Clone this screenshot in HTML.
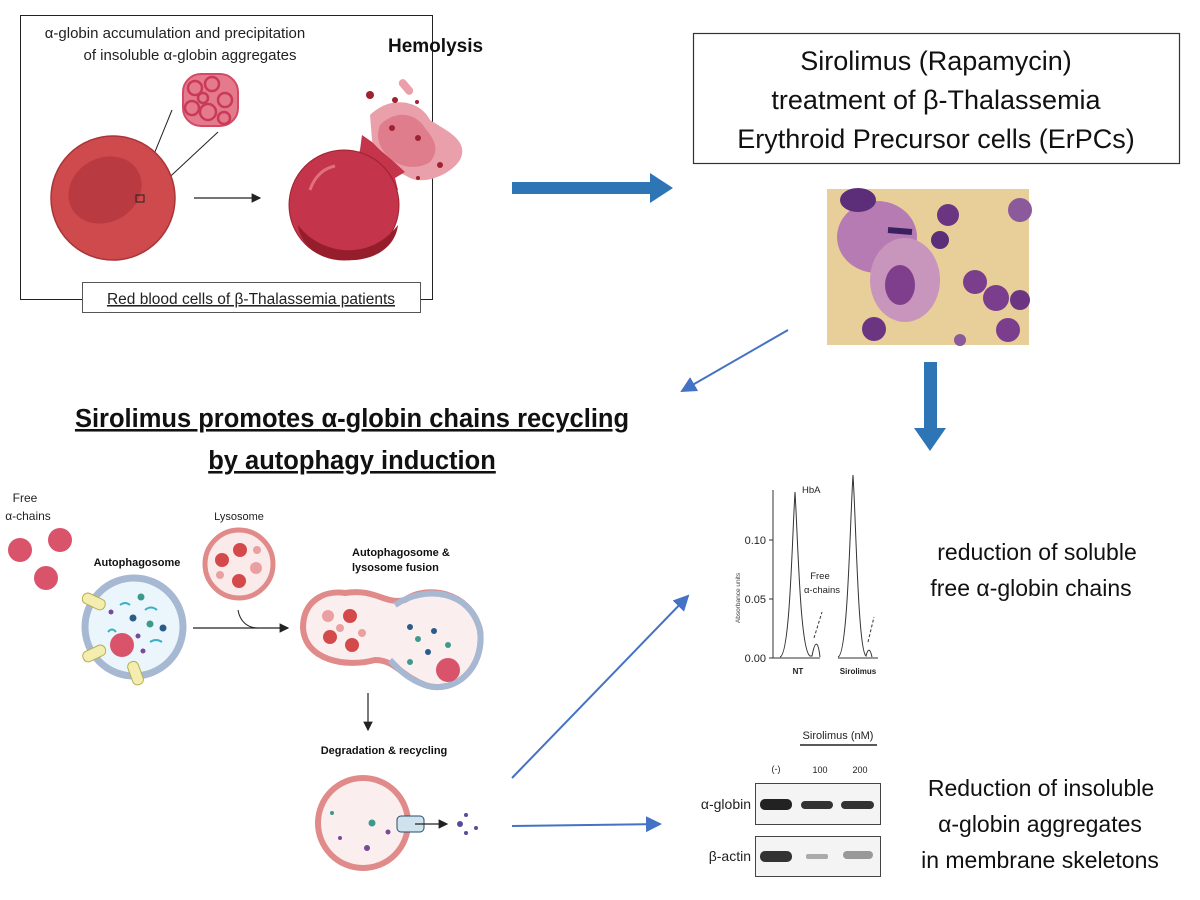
<!DOCTYPE html>
<html><head><meta charset="utf-8"><style>
html,body{margin:0;padding:0;background:#fff;}
svg{display:block;font-family:"Liberation Sans",sans-serif;}
</style></head><body>
<svg width="1200" height="900" viewBox="0 0 1200 900" xmlns="http://www.w3.org/2000/svg">
<defs>
<marker id="ak" markerWidth="8" markerHeight="8" refX="7" refY="4" orient="auto"><path d="M0,0 L8,4 L0,8 Z" fill="#222"/></marker>
<marker id="ab" markerWidth="8" markerHeight="8" refX="7" refY="4" orient="auto"><path d="M0,0 L8,4 L0,8 Z" fill="#4472c4"/></marker>
</defs>
<!-- Top-left box -->
<rect x="20.5" y="15.5" width="412" height="284" fill="#fff" stroke="#222" stroke-width="1"/>
<text x="175" y="38" font-size="15" text-anchor="middle" fill="#222">α-globin accumulation and precipitation</text>
<text x="190" y="60" font-size="15" text-anchor="middle" fill="#222">of insoluble α-globin aggregates</text>
<text x="388" y="52" font-size="19" font-weight="bold" text-anchor="start" fill="#111">Hemolysis</text>
<!-- aggregate -->
<g fill="#e57a8d" stroke="#d44a66" stroke-width="2">
<rect x="183" y="74" width="55" height="52" rx="18"/>
</g>
<g fill="none" stroke="#c93a58" stroke-width="2.5">
<circle cx="195" cy="88" r="7"/><circle cx="212" cy="84" r="7"/><circle cx="225" cy="100" r="7"/><circle cx="192" cy="108" r="7"/><circle cx="208" cy="112" r="8"/><circle cx="224" cy="118" r="6"/><circle cx="203" cy="98" r="5"/>
</g>
<line x1="172" y1="110" x2="137" y2="196" stroke="#222"/>
<line x1="218" y1="132" x2="145" y2="200" stroke="#222"/>
<circle cx="113" cy="198" r="62" fill="#cf4a4c" stroke="#a93538" stroke-width="1.5"/>
<ellipse cx="105" cy="190" rx="38" ry="32" fill="#b93a40" transform="rotate(-30 105 190)"/>
<rect x="136" y="195" width="8" height="7" fill="none" stroke="#222"/>
<line x1="194" y1="198" x2="260" y2="198" stroke="#222" stroke-width="1.2" marker-end="url(#ak)"/>
<!-- burst -->
<path d="M370,115 C390,95 420,100 430,120 C445,130 470,140 460,160 C450,175 425,185 410,178 C395,170 375,160 372,140 Z" fill="#eaa0ab"/>
<path d="M380,125 C395,110 415,112 425,128 C435,140 440,150 430,162 C418,170 400,168 390,158 C380,150 375,138 380,125 Z" fill="#df7d8c"/>
<rect x="402" y="78" width="8" height="18" rx="4" fill="#eaa0ab" transform="rotate(-40 406 87)"/>
<circle cx="370" cy="95" r="4" fill="#9e2230"/><circle cx="395" cy="100" r="3" fill="#9e2230"/><circle cx="417" cy="102" r="2" fill="#9e2230"/><circle cx="440" cy="165" r="3" fill="#9e2230"/><circle cx="418" cy="178" r="2" fill="#9e2230"/><circle cx="392" cy="128" r="3" fill="#9e2230"/><circle cx="418" cy="138" r="3" fill="#9e2230"/>
<path d="M360,150 L362,135 L372,142 L380,150 L392,160 L405,172 L395,178 L398,190 L340,200 Z" fill="#c4344a"/>
<circle cx="344" cy="205" r="55" fill="#c4344a" stroke="#9e2230" stroke-width="1"/>
<path d="M298,225 C320,255 370,262 398,225 C395,250 370,262 344,260 C320,260 300,245 298,225 Z" fill="#961d2c"/>
<path d="M310,190 C315,175 325,168 335,166" fill="none" stroke="#e0707e" stroke-width="3"/>
<!-- label box -->
<rect x="82.5" y="282.5" width="338" height="30" fill="#fff" stroke="#555" stroke-width="1"/>
<text x="251" y="304" font-size="15.5" text-anchor="middle" fill="#222" text-decoration="underline">Red blood cells of β-Thalassemia patients</text>

<!-- big blue arrow -->
<rect x="512" y="182" width="140" height="12" fill="#2e75b6"/>
<path d="M650,173 L673,188 L650,203 Z" fill="#2e75b6"/>

<!-- title box -->
<rect x="693.5" y="33.5" width="486" height="130" fill="#fff" stroke="#333" stroke-width="1.2"/>
<text x="936" y="70" font-size="27" text-anchor="middle" fill="#111">Sirolimus (Rapamycin)</text>
<text x="936" y="109" font-size="27" text-anchor="middle" fill="#111">treatment of β-Thalassemia</text>
<text x="936" y="148" font-size="27" text-anchor="middle" fill="#111">Erythroid Precursor cells (ErPCs)</text>

<!-- micrograph -->
<rect x="827" y="189" width="202" height="156" fill="#e8cf9a"/>
<ellipse cx="877" cy="237" rx="40" ry="36" fill="#b67bb3"/>
<ellipse cx="905" cy="280" rx="35" ry="42" fill="#c896bd"/>
<ellipse cx="900" cy="285" rx="15" ry="20" fill="#7f3f8c"/>
<ellipse cx="858" cy="200" rx="18" ry="12" fill="#5c2d78"/>
<circle cx="948" cy="215" r="11" fill="#6b3582"/><circle cx="940" cy="240" r="9" fill="#5c2d78"/>
<circle cx="975" cy="282" r="12" fill="#7a3e8c"/><circle cx="996" cy="298" r="13" fill="#7a3e8c"/><circle cx="1008" cy="330" r="12" fill="#7a3e8c"/><circle cx="1020" cy="300" r="10" fill="#6b3582"/>
<circle cx="874" cy="329" r="12" fill="#6b3582"/><circle cx="1020" cy="210" r="12" fill="#8a5a9a"/>
<circle cx="960" cy="340" r="6" fill="#8a5a9a"/>
<line x1="888" y1="230" x2="912" y2="232" stroke="#3a2060" stroke-width="6"/>

<!-- thin blue arrow -->
<line x1="788" y1="330" x2="682" y2="391" stroke="#4472c4" stroke-width="2" marker-end="url(#ab)"/>
<!-- down blue arrow -->
<rect x="924" y="362" width="13" height="68" fill="#2e75b6"/>
<path d="M914,428 L930,451 L946,428 Z" fill="#2e75b6"/>

<!-- heading -->
<text x="352" y="427" font-size="25.5" font-weight="bold" text-anchor="middle" fill="#111" text-decoration="underline">Sirolimus promotes α-globin chains recycling</text>
<text x="352" y="469" font-size="25.5" font-weight="bold" text-anchor="middle" fill="#111" text-decoration="underline">by autophagy induction</text>

<!-- autophagy diagram -->
<text x="25" y="502" font-size="12" text-anchor="middle" fill="#222">Free</text>
<text x="28" y="520" font-size="12" text-anchor="middle" fill="#222">α-chains</text>
<g fill="#d9536b"><circle cx="20" cy="550" r="12"/><circle cx="60" cy="540" r="12"/><circle cx="46" cy="578" r="12"/></g>
<text x="137" y="566" font-size="11" font-weight="bold" text-anchor="middle" fill="#111">Autophagosome</text>
<circle cx="134" cy="627" r="49" fill="#eaf6fb" stroke="#a7b8d2" stroke-width="7"/>
<circle cx="122" cy="645" r="12" fill="#d9536b"/>
<g fill="#2a5b8a"><circle cx="133" cy="618" r="3.5"/><circle cx="163" cy="628" r="3.5"/></g>
<g fill="#3b9a8c"><circle cx="141" cy="597" r="3.5"/><circle cx="150" cy="624" r="3.5"/></g>
<g fill="#7a4a9a"><circle cx="111" cy="612" r="2.5"/><circle cx="138" cy="636" r="2.5"/><circle cx="143" cy="651" r="2.5"/></g>
<g fill="none" stroke="#3ab0c8" stroke-width="2"><path d="M120,605 q5,-4 10,0"/><path d="M145,610 q6,-5 12,0"/><path d="M108,632 q4,-5 8,0"/><path d="M150,642 q6,-4 12,0"/></g>
<rect x="82" y="596" width="24" height="11" rx="5" fill="#f3eeb0" stroke="#b9ac50" transform="rotate(25 94 601)"/>
<rect x="82" y="648" width="24" height="11" rx="5" fill="#f3eeb0" stroke="#b9ac50" transform="rotate(-25 94 653)"/>
<rect x="124" y="668" width="24" height="11" rx="5" fill="#f3eeb0" stroke="#b9ac50" transform="rotate(70 136 673)"/>
<text x="239" y="520" font-size="11" text-anchor="middle" fill="#222">Lysosome</text>
<circle cx="239" cy="564" r="34" fill="#fbeaea" stroke="#e08a8a" stroke-width="5"/>
<g fill="#d44a4a"><circle cx="240" cy="550" r="7"/><circle cx="222" cy="560" r="7"/><circle cx="239" cy="581" r="7"/></g>
<g fill="#eaa0a0"><circle cx="256" cy="568" r="6"/><circle cx="257" cy="550" r="4"/><circle cx="220" cy="575" r="4"/></g>
<path d="M238,610 C240,622 248,628 258,628" fill="none" stroke="#222"/>
<line x1="193" y1="628" x2="288" y2="628" stroke="#222" stroke-width="1.2" marker-end="url(#ak)"/>
<text x="352" y="556" font-size="11" font-weight="bold" fill="#111">Autophagosome &amp;</text>
<text x="352" y="571" font-size="11" font-weight="bold" fill="#111">lysosome fusion</text>
<path d="M345,593 C375,588 385,605 405,600 C425,585 470,590 480,630 C485,668 455,695 425,685 C400,675 395,660 375,660 C345,668 305,660 303,628 C303,600 325,590 345,593 Z" fill="#fbeeee" stroke="#e08a8a" stroke-width="6"/>
<path d="M395,605 C425,585 470,590 480,630 C485,668 455,695 425,685 C405,678 395,665 390,660" fill="none" stroke="#a7b8d2" stroke-width="6"/>
<g fill="#d44a4a"><circle cx="350" cy="616" r="7"/><circle cx="330" cy="637" r="7"/><circle cx="352" cy="645" r="7"/></g>
<g fill="#eaa0a0"><circle cx="328" cy="616" r="6"/><circle cx="340" cy="628" r="4"/><circle cx="362" cy="633" r="4"/></g>
<circle cx="448" cy="670" r="12" fill="#d9536b"/>
<g fill="#2a5b8a"><circle cx="410" cy="627" r="3"/><circle cx="434" cy="631" r="3"/><circle cx="428" cy="652" r="3"/></g>
<g fill="#3b9a8c"><circle cx="418" cy="639" r="3"/><circle cx="448" cy="645" r="3"/><circle cx="410" cy="662" r="3"/></g>
<line x1="368" y1="693" x2="368" y2="730" stroke="#222" stroke-width="1.2" marker-end="url(#ak)"/>
<text x="384" y="754" font-size="11" font-weight="bold" text-anchor="middle" fill="#111">Degradation &amp; recycling</text>
<circle cx="363" cy="823" r="45" fill="#fbeeee" stroke="#e08a8a" stroke-width="6"/>
<g fill="#3b9a8c"><circle cx="372" cy="823" r="3.5"/><circle cx="332" cy="813" r="2"/></g>
<g fill="#7a4a9a"><circle cx="367" cy="848" r="3"/><circle cx="388" cy="832" r="2.5"/><circle cx="340" cy="838" r="2"/></g>
<rect x="397" y="816" width="27" height="16" rx="4" fill="#cfe3ef" stroke="#2a4a6a"/>
<line x1="415" y1="824" x2="447" y2="824" stroke="#222" stroke-width="1.2" marker-end="url(#ak)"/>
<g fill="#5a4a9a"><circle cx="460" cy="824" r="3"/><circle cx="466" cy="815" r="2"/><circle cx="476" cy="828" r="2"/><circle cx="466" cy="833" r="2"/></g>

<!-- blue bottom arrows -->
<line x1="512" y1="778" x2="688" y2="596" stroke="#4472c4" stroke-width="2" marker-end="url(#ab)"/>
<line x1="512" y1="826" x2="660" y2="824" stroke="#4472c4" stroke-width="2" marker-end="url(#ab)"/>

<!-- chromatogram -->
<g stroke="#333" stroke-width="1" fill="none">
<line x1="773" y1="490" x2="773" y2="658"/>
<line x1="773" y1="658" x2="820" y2="658"/>
<line x1="838" y1="658" x2="878" y2="658"/>
<line x1="769" y1="540" x2="773" y2="540"/><line x1="769" y1="599" x2="773" y2="599"/><line x1="769" y1="658" x2="773" y2="658"/>
<path d="M780,657 C790,655 792,540 795,492 C798,540 800,650 810,656 L812,656 C815,640 818,640 820,657"/>
<path d="M838,657 C848,655 850,520 853,475 C856,520 858,650 866,656 C868,648 870,648 872,657"/>
<path d="M814,638 L822,612" stroke-dasharray="3,2"/><path d="M868,642 L874,617" stroke-dasharray="3,2"/>
</g>
<text x="766" y="544" font-size="11" text-anchor="end" fill="#222">0.10</text>
<text x="766" y="603" font-size="11" text-anchor="end" fill="#222">0.05</text>
<text x="766" y="662" font-size="11" text-anchor="end" fill="#222">0.00</text>
<text x="740" y="598" font-size="6.5" text-anchor="middle" fill="#444" transform="rotate(-90 740 598)">Absorbance units</text>
<text x="802" y="493" font-size="9.5" fill="#222">HbA</text>
<text x="820" y="579" font-size="9.5" text-anchor="middle" fill="#222">Free</text>
<text x="822" y="593" font-size="9.5" text-anchor="middle" fill="#222">α-chains</text>
<text x="798" y="674" font-size="8" font-weight="bold" text-anchor="middle" fill="#222">NT</text>
<text x="858" y="674" font-size="8" font-weight="bold" text-anchor="middle" fill="#222">Sirolimus</text>
<text x="1037" y="560" font-size="23" text-anchor="middle" fill="#111">reduction of soluble</text>
<text x="1031" y="596" font-size="23" text-anchor="middle" fill="#111">free α-globin chains</text>

<!-- western -->
<text x="838" y="739" font-size="11" text-anchor="middle" fill="#222">Sirolimus (nM)</text>
<line x1="800" y1="745" x2="877" y2="745" stroke="#222" stroke-width="1.5"/>
<text x="776" y="772" font-size="9" text-anchor="middle" fill="#222">(-)</text>
<text x="820" y="773" font-size="9" text-anchor="middle" fill="#222">100</text>
<text x="860" y="773" font-size="9" text-anchor="middle" fill="#222">200</text>
<rect x="755.5" y="783.5" width="125" height="41" fill="#f4f4f4" stroke="#444"/>
<rect x="755.5" y="836.5" width="125" height="40" fill="#f4f4f4" stroke="#444"/>
<rect x="760" y="799" width="32" height="11" rx="5" fill="#222"/>
<rect x="801" y="801" width="32" height="8" rx="4" fill="#333"/>
<rect x="841" y="801" width="33" height="8" rx="4" fill="#333"/>
<rect x="760" y="851" width="32" height="11" rx="5" fill="#333"/>
<rect x="806" y="854" width="22" height="5" rx="2" fill="#aaa"/>
<rect x="843" y="851" width="30" height="8" rx="4" fill="#999"/>
<text x="751" y="809" font-size="14" text-anchor="end" fill="#222">α-globin</text>
<text x="751" y="861" font-size="14" text-anchor="end" fill="#222">β-actin</text>
<text x="1041" y="796" font-size="23" text-anchor="middle" fill="#111">Reduction of insoluble</text>
<text x="1040" y="832" font-size="23" text-anchor="middle" fill="#111">α-globin aggregates</text>
<text x="1040" y="868" font-size="23" text-anchor="middle" fill="#111">in membrane skeletons</text>
</svg>
</body></html>
